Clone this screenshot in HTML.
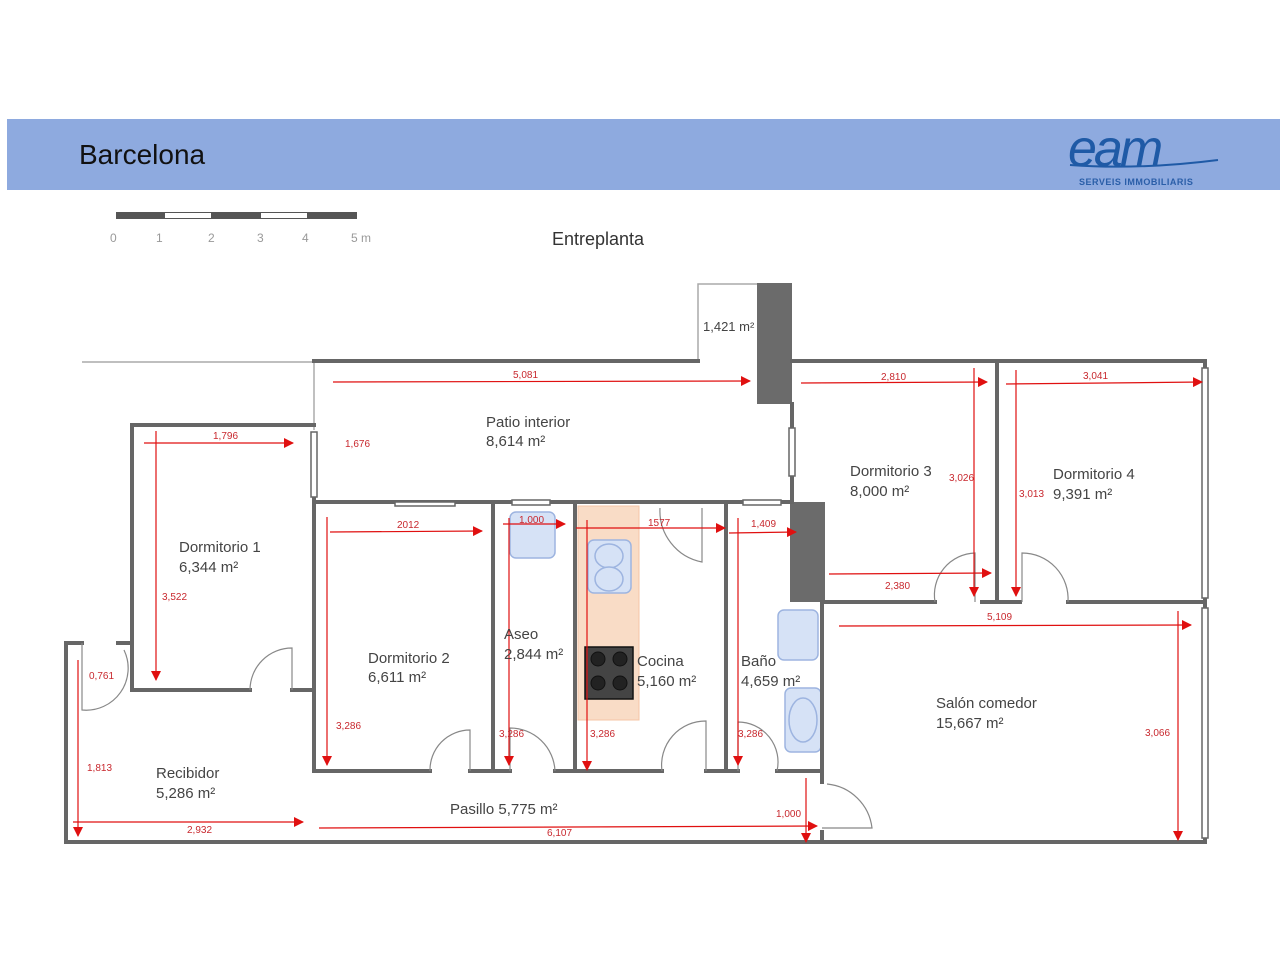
<!DOCTYPE html>
<html><head><meta charset="utf-8"><style>
html,body{margin:0;padding:0;background:#fff}
svg{display:block}
text{font-family:"Liberation Sans",sans-serif}
</style></head><body>
<svg width="1280" height="960" viewBox="0 0 1280 960" xmlns="http://www.w3.org/2000/svg">
<defs>
<marker id="a" markerWidth="10" markerHeight="10" refX="9" refY="5" orient="auto" markerUnits="userSpaceOnUse"><path d="M0,0 L10,5 L0,10 z" fill="#e01010"/></marker>
</defs>
<rect x="0" y="0" width="1280" height="960" fill="#fff"/>
<rect x="7" y="119" width="1273" height="71" fill="#8eaadf"/>
<text x="79" y="164" font-size="28" fill="#111">Barcelona</text>
<text x="1068" y="166" font-size="52" fill="#1f5aa6" font-family="Liberation Serif,serif" font-style="italic" letter-spacing="-3">eam</text>
<path d="M1070,165 Q1140,170 1218,160" stroke="#1f5aa6" stroke-width="2" fill="none"/>
<text x="1079" y="185" font-size="9" font-weight="bold" fill="#2a5ea8" letter-spacing="0.5">SERVEIS IMMOBILIARIS</text>

<!-- scale -->
<rect x="116" y="212" width="241" height="7" fill="#555"/>
<rect x="165" y="213" width="46" height="5" fill="#fff"/>
<rect x="261" y="213" width="46" height="5" fill="#fff"/>
<g font-size="12" fill="#999"><text x="110" y="242">0</text><text x="156" y="242">1</text><text x="208" y="242">2</text><text x="257" y="242">3</text><text x="302" y="242">4</text><text x="351" y="242">5 m</text></g>
<text x="552" y="245" font-size="18" fill="#333">Entreplanta</text>

<!-- orange counter -->
<rect x="578" y="506" width="61" height="214" fill="#f9dcc6" stroke="#f5c5a5"/>
<!-- fixtures -->
<g fill="#d6e2f6" stroke="#9db4e0" stroke-width="1.5">
<rect x="510" y="512" width="45" height="46" rx="6"/>
<rect x="588" y="540" width="43" height="53" rx="6"/>
<ellipse cx="609" cy="556" rx="14" ry="12"/><ellipse cx="609" cy="579" rx="14" ry="12"/>
<rect x="778" y="610" width="40" height="50" rx="6"/>
<rect x="785" y="688" width="36" height="64" rx="6"/>
<ellipse cx="803" cy="720" rx="14" ry="22"/>
</g>
<rect x="585" y="647" width="48" height="52" fill="#444" stroke="#111" stroke-width="1.5"/>
<g fill="#222" stroke="#111"><circle cx="598" cy="659" r="7"/><circle cx="620" cy="659" r="7"/><circle cx="598" cy="683" r="7"/><circle cx="620" cy="683" r="7"/></g>

<!-- light lines -->
<g stroke="#aaa" stroke-width="1.5" fill="none">
<line x1="82" y1="362" x2="314" y2="362"/>
<polyline points="698,361 698,284 757,284"/>
<line x1="314" y1="361" x2="314" y2="430"/>
</g>
<!-- dark blocks -->
<rect x="757" y="283" width="35" height="121" fill="#6b6b6b"/>
<rect x="790" y="502" width="35" height="100" fill="#6b6b6b"/>

<!-- walls -->
<g stroke="#666" stroke-width="4" fill="none" stroke-linecap="square">
<polyline points="314,361 698,361"/>
<polyline points="792,361 1205,361 1205,842 66,842 66,643 82,643"/>
<line x1="118" y1="643" x2="132" y2="643"/>
<polyline points="132,690 132,425 314,425"/>
<line x1="132" y1="690" x2="250" y2="690"/>
<line x1="292" y1="690" x2="314" y2="690"/>
<line x1="314" y1="497" x2="314" y2="771"/>
<line x1="314" y1="502" x2="792" y2="502"/>
<line x1="792" y1="404" x2="792" y2="502"/>
<line x1="314" y1="771" x2="430" y2="771"/>
<line x1="470" y1="771" x2="510" y2="771"/>
<line x1="493" y1="502" x2="493" y2="771"/>
<line x1="555" y1="771" x2="588" y2="771"/>
<line x1="575" y1="502" x2="575" y2="771"/>
<line x1="660" y1="771" x2="660" y2="771"/>
<line x1="575" y1="771" x2="662" y2="771"/>
<line x1="706" y1="771" x2="738" y2="771"/>
<line x1="726" y1="502" x2="726" y2="771"/>
<line x1="777" y1="771" x2="822" y2="771"/>
<line x1="822" y1="602" x2="822" y2="782"/>
<line x1="822" y1="832" x2="822" y2="842"/>
<line x1="997" y1="361" x2="997" y2="602"/>
<line x1="825" y1="602" x2="935" y2="602"/>
<line x1="982" y1="602" x2="1020" y2="602"/>
<line x1="1068" y1="602" x2="1205" y2="602"/>
</g>
<!-- windows -->
<g fill="#fff" stroke="#666" stroke-width="1.5">
<rect x="311" y="432" width="6" height="65"/>
<rect x="789" y="428" width="6" height="48"/>
<rect x="395" y="502" width="60" height="4"/>
<rect x="512" y="500" width="38" height="5"/>
<rect x="743" y="500" width="38" height="5"/>
<rect x="1202" y="368" width="6" height="230"/>
<rect x="1202" y="608" width="6" height="230"/>
</g>
<!-- doors -->
<g stroke="#888" stroke-width="1.2" fill="none">
<path d="M292,690 L292,648 A42,42 0 0 0 250,690"/>
<path d="M470,771 L470,730 A40,40 0 0 0 430,771"/>
<path d="M510,771 L510,728 A45,45 0 0 1 555,771"/>
<path d="M706,771 L706,721 A44,44 0 0 0 662,771"/>
<path d="M738,771 L738,722 A40,40 0 0 1 777,771"/>
<path d="M702,508 L702,562 A52,52 0 0 1 660,508"/>
<path d="M975,602 L975,553 A42,42 0 0 0 935,602"/>
<path d="M1022,602 L1022,553 A46,46 0 0 1 1068,602"/>
<path d="M822,828 L872,828 A50,50 0 0 0 827,784"/>
<path d="M82,643 L82,710 A42,42 0 0 0 124,650"/>
</g>

<!-- dimensions -->
<g stroke="#e01010" stroke-width="1.2" fill="none">
<line x1="333" y1="382" x2="750" y2="381" marker-end="url(#a)"/>
<line x1="144" y1="443" x2="293" y2="443" marker-end="url(#a)"/>
<line x1="156" y1="431" x2="156" y2="680" marker-end="url(#a)"/>
<line x1="330" y1="532" x2="482" y2="531" marker-end="url(#a)"/>
<line x1="327" y1="517" x2="327" y2="765" marker-end="url(#a)"/>
<line x1="503" y1="524" x2="565" y2="524" marker-end="url(#a)"/>
<line x1="509" y1="518" x2="509" y2="765" marker-end="url(#a)"/>
<line x1="576" y1="528" x2="725" y2="528" marker-end="url(#a)"/>
<line x1="587" y1="520" x2="587" y2="770" marker-end="url(#a)"/>
<line x1="729" y1="533" x2="796" y2="532" marker-end="url(#a)"/>
<line x1="738" y1="518" x2="738" y2="765" marker-end="url(#a)"/>
<line x1="801" y1="383" x2="987" y2="382" marker-end="url(#a)"/>
<line x1="974" y1="368" x2="974" y2="596" marker-end="url(#a)"/>
<line x1="1006" y1="384" x2="1202" y2="382" marker-end="url(#a)"/>
<line x1="1016" y1="370" x2="1016" y2="596" marker-end="url(#a)"/>
<line x1="829" y1="574" x2="991" y2="573" marker-end="url(#a)"/>
<line x1="839" y1="626" x2="1191" y2="625" marker-end="url(#a)"/>
<line x1="1178" y1="611" x2="1178" y2="840" marker-end="url(#a)"/>
<line x1="78" y1="660" x2="78" y2="836" marker-end="url(#a)"/>
<line x1="73" y1="822" x2="303" y2="822" marker-end="url(#a)"/>
<line x1="319" y1="828" x2="817" y2="826" marker-end="url(#a)"/>
<line x1="806" y1="778" x2="806" y2="842" marker-end="url(#a)"/>
</g>
<g font-size="10" fill="#c8282e">
<text x="513" y="378">5,081</text><text x="213" y="439">1,796</text><text x="345" y="447">1,676</text>
<text x="162" y="600">3,522</text><text x="397" y="528">2012</text><text x="519" y="523">1,000</text>
<text x="648" y="526">1577</text><text x="751" y="527">1,409</text><text x="881" y="380">2,810</text>
<text x="1083" y="379">3,041</text><text x="949" y="481">3,026</text><text x="1019" y="497">3,013</text>
<text x="885" y="589">2,380</text><text x="987" y="620">5,109</text><text x="1145" y="736">3,066</text>
<text x="336" y="729">3,286</text><text x="499" y="737">3,286</text><text x="590" y="737">3,286</text>
<text x="738" y="737">3,286</text><text x="89" y="679">0,761</text><text x="87" y="771">1,813</text>
<text x="187" y="833">2,932</text><text x="547" y="836">6,107</text><text x="776" y="817">1,000</text>
</g>
<g font-size="15" fill="#444">
<text x="703" y="331" font-size="13">1,421 m²</text>
<text x="486" y="427">Patio interior</text><text x="486" y="446">8,614 m²</text>
<text x="179" y="552">Dormitorio 1</text><text x="179" y="572">6,344 m²</text>
<text x="368" y="663">Dormitorio 2</text><text x="368" y="682">6,611 m²</text>
<text x="504" y="639">Aseo</text><text x="504" y="659">2,844 m²</text>
<text x="637" y="666">Cocina</text><text x="637" y="686">5,160 m²</text>
<text x="741" y="666">Baño</text><text x="741" y="686">4,659 m²</text>
<text x="850" y="476">Dormitorio 3</text><text x="850" y="496">8,000 m²</text>
<text x="1053" y="479">Dormitorio 4</text><text x="1053" y="499">9,391 m²</text>
<text x="936" y="708">Salón comedor</text><text x="936" y="728">15,667 m²</text>
<text x="156" y="778">Recibidor</text><text x="156" y="798">5,286 m²</text>
<text x="450" y="814">Pasillo  5,775 m²</text>
</g>
</svg>
</body></html>
